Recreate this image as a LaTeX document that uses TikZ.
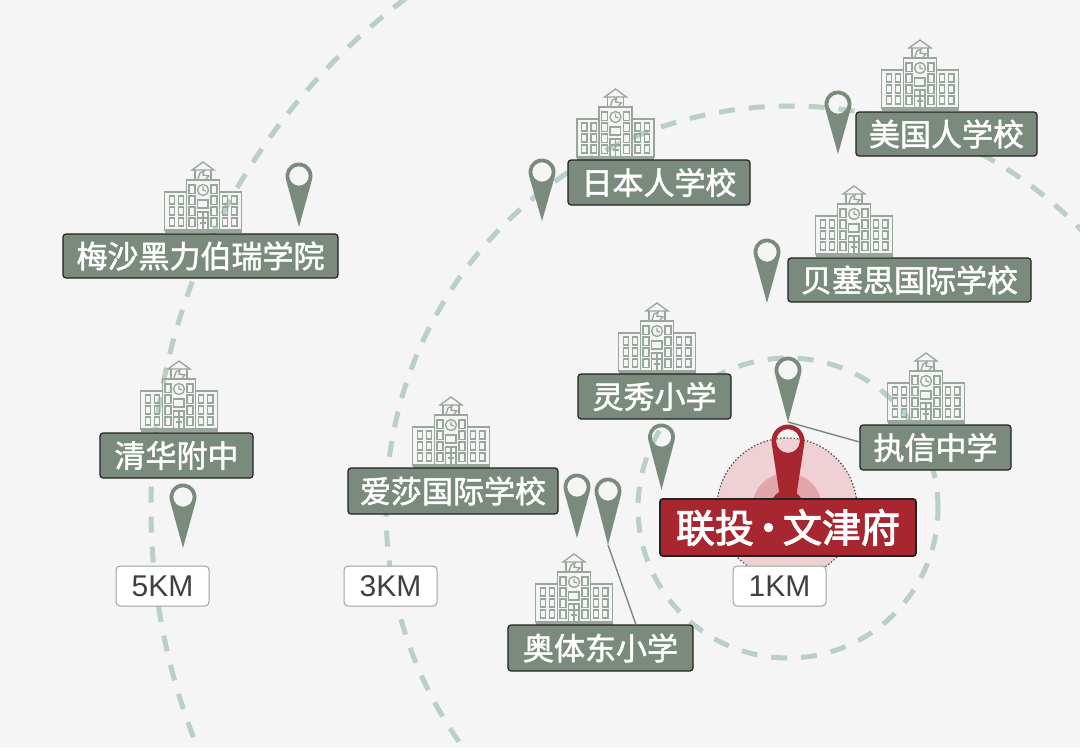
\documentclass[tikz,border=0pt]{standalone}
\usepackage{fontspec}
\setmainfont{Noto Sans CJK SC}
\newfontfamily\cjkmed[FakeBold=1.6]{Noto Sans CJK SC}
\newfontfamily\cjkheavy[FakeBold=2.6]{Noto Sans CJK SC}
\newfontfamily\latinlab{Liberation Sans}
\usetikzlibrary{calc}
\definecolor{bgc}{HTML}{F5F5F5}
\definecolor{ringc}{HTML}{B9D0C6}
\definecolor{sagec}{HTML}{7A8B7E}
\definecolor{iconc}{HTML}{98A69B}
\definecolor{redc}{HTML}{A82630}
\definecolor{pinka}{HTML}{EED0D5}
\definecolor{pinkb}{HTML}{E3A5AC}
\definecolor{edgec}{HTML}{222222}
\newcommand{\pinshape}[6]{% name, x, y head, y tip, radius, colour
  \pgfmathsetmacro{\pinang}{acos(#5/(#4-#3))}
  \pgfmathsetmacro{\pinhole}{#5*0.72}
  \coordinate (#1) at (#2,#4);
  \begin{scope}[shift={(#2,#3)},x=1pt,y=1pt]
    \fill[#6,even odd rule] (-90+\pinang:#5pt) -- (0,-#4+#3) -- (-90-\pinang:#5pt)
      arc[start angle=270-\pinang,end angle=-90+\pinang,radius=#5pt] -- cycle
      (0,0) circle[radius=\pinhole pt];
  \end{scope}}
\tikzset{
  x=1pt,y=-1pt,
  ring/.style={draw=ringc,line width=5pt,dash pattern=on 16pt off 14pt},
  lab/.style={draw=edgec,line width=1.2pt,fill=sagec,rounded corners=3pt,text=white,inner sep=0pt,font=\cjkmed\fontsize{31}{32}\selectfont},
  kmlab/.style={draw=iconc,line width=1pt,fill=white,rounded corners=4pt,text=black!75,inner sep=0pt,minimum width=93pt,minimum height=40pt,font=\latinlab\fontsize{30}{30}\selectfont},
  leader/.style={draw=sagec,line width=1.4pt},
  schoolicon/.pic={
    \begin{scope}[draw=iconc,line width=1.35pt]
      \draw (-38.5,0) -- (38.5,0);
      \draw (-16.5,-40) -- (-38.5,-40) -- (-38.5,-2) -- (38.5,-2) -- (38.5,-40) -- (16.5,-40);
      \draw (-16.5,0) rectangle (16.5,-52);
      \draw (-8,-52) -- (-8,-62) (8,-52) -- (8,-62);
      \draw (-11,-62) -- (0,-70) -- (11,-62) -- cycle;
      \draw (-5,-53) -- (-3,-59) -- (1,-61) -- (0,-57) -- (6,-56) -- (3,-53);
      \draw (0,-42) circle[radius=5.5pt];
      \draw (0,-45.5) -- (0,-42) -- (3,-41);
      \foreach \wx in {-33.8,-24.5,19.5,28.8}
        \foreach \wy in {-36,-25,-14}
          \draw (\wx,\wy) rectangle ++(5.2,8);
      \foreach \wx in {-14,8}
        \foreach \wy in {-47,-36,-25,-14}
          \draw (\wx,\wy) rectangle ++(6,8.5);
      \draw (-5.5,-32) rectangle (5,-24);
      \draw (-5.5,-2) -- (-5.5,-20) -- (5,-20) -- (5,-2);
      \draw (-5.5,-14) -- (5,-14) (0,-20) -- (0,-2) (-3,-9) -- (3,-9);
    \end{scope}
  }
}
\begin{document}
\begin{tikzpicture}
\useasboundingbox (0,0) rectangle (1080,748);
\fill[bgc] (0,0) rectangle (1080,748);
\begin{scope}
  \clip (0,0) rectangle (1080,748);
  \draw[ring] (788,508) circle[radius=150pt];
  \draw[ring] (790,510) circle[radius=404pt];
  \draw[ring] (788,508) circle[radius=637pt];
\end{scope}
\fill[pinka] (787,508) circle[radius=70pt];
\draw[black!70,line width=1.2pt,dash pattern=on 1.4pt off 2pt] (787,508) circle[radius=70pt];
\fill[pinkb] (787,508) circle[radius=35pt];
\fill[redc] (787,506) circle[radius=16pt];
% school icons
\pic at (203,232) {schoolicon};
\pic at (615.5,159) {schoolicon};
\pic at (920,110) {schoolicon};
\pic at (854,256) {schoolicon};
\pic at (657,373) {schoolicon};
\pic at (926,423) {schoolicon};
\pic at (451,467) {schoolicon};
\pic at (179,431) {schoolicon};
\pic at (574,624) {schoolicon};
% pins
\pinshape{tipa}{299}{176}{227}{13.5}{sagec}
\pinshape{tipb}{542}{172}{221}{13.5}{sagec}
\pinshape{tipc}{838}{104}{154}{13.5}{sagec}
\pinshape{tipd}{767}{252}{303}{13.5}{sagec}
\pinshape{tipe}{788}{370}{422}{13.5}{sagec}
\pinshape{tipf}{661.5}{437}{490}{13.5}{sagec}
\pinshape{tipg}{183}{497}{548}{13.5}{sagec}
\pinshape{tiph}{577}{487}{538}{13.5}{sagec}
\pinshape{tipi}{608}{491}{545}{13.5}{sagec}
\pinshape{tipj}{788}{441}{550}{16.5}{redc}
% labels
\node[lab,minimum width=275pt,minimum height=44pt] (meisha) at (200.5,256) {梅沙黑力伯瑞学院};
\node[lab,minimum width=182pt,minimum height=45pt] (riben) at (659,182.5) {日本人学校};
\node[lab,minimum width=181pt,minimum height=44pt] (meiguo) at (946.5,134) {美国人学校};
\node[lab,minimum width=243pt,minimum height=44pt] (beisaisi) at (909.5,280) {贝塞思国际学校};
\node[lab,minimum width=153pt,minimum height=45pt] (lingxiu) at (654.5,396.5) {灵秀小学};
\node[lab,minimum width=151pt,minimum height=45pt] (zhixin) at (935.5,447.5) {执信中学};
\node[lab,minimum width=210pt,minimum height=46pt] (aisha) at (453,491) {爱莎国际学校};
\node[lab,minimum width=153pt,minimum height=45pt] (qinghua) at (176.5,455.5) {清华附中};
\node[lab,minimum width=185pt,minimum height=46pt] (aoti) at (600.5,648) {奥体东小学};
\node[draw=edgec,line width=1.8pt,fill=redc,rounded corners=3pt,text=white,inner sep=0pt,minimum width=256pt,minimum height=57pt,font=\cjkheavy\fontsize{39}{39}\selectfont] (liantou) at (788,527.5) {联投\kern-5pt·\kern-5pt文津府};
\node[kmlab] (kmfive) at (162.5,586) {5KM};
\node[kmlab] (kmthree) at (390.5,586) {3KM};
\node[kmlab] (kmone) at (779.5,586) {1KM};
% leaders
\draw[leader] (tipe) -- ($(zhixin.north west)!0.38!(zhixin.south west)$);
\draw[leader] (tipi) -- ($(aoti.north west)!0.69!(aoti.north east)$);
\end{tikzpicture}
\end{document}
